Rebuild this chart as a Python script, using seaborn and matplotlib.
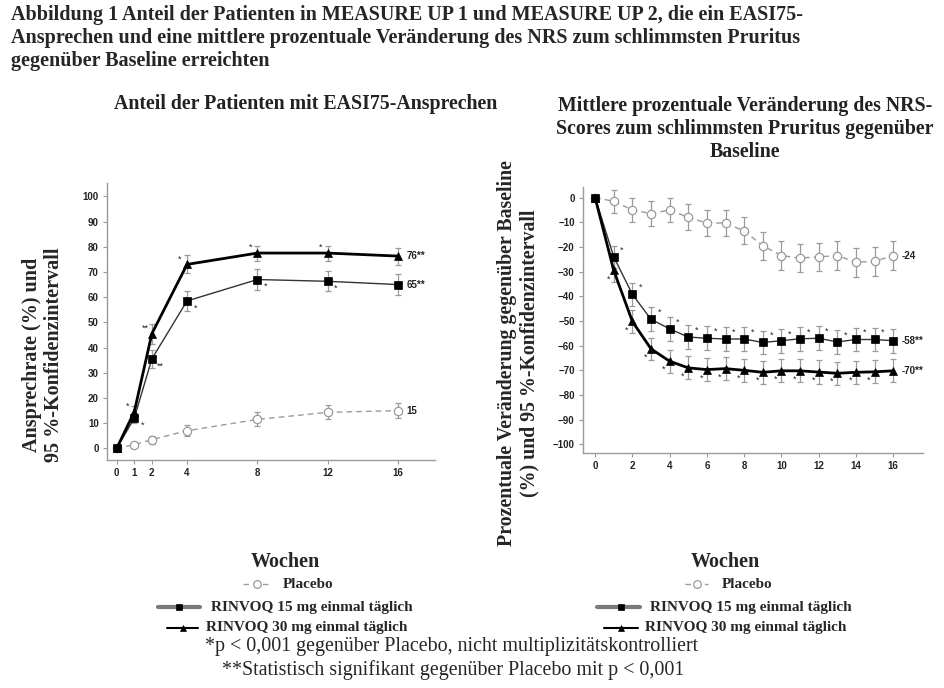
import numpy as np
import pandas as pd
import matplotlib
matplotlib.use("Agg")
import matplotlib.pyplot as plt
from matplotlib.lines import Line2D
import seaborn as sns

# EASI75 response (left panel)
weeks_easi = [0, 1, 2, 4, 8, 12, 16]
pbo_easi = [0, 1.5, 3.5, 7, 11.5, 14.3, 15]
pbo_easi_err = [0, 1.0, 1.6, 2.2, 2.8, 2.8, 3.0]
up15_easi = [0, 12, 35.5, 58.5, 67, 66.3, 65]
up15_easi_err = [0, 2.0, 3.5, 4.0, 4.0, 4.0, 4.0]
up30_easi = [0, 14.5, 45.5, 73, 77.5, 77.5, 76.3]
up30_easi_err = [0, 2.3, 4.0, 3.6, 3.0, 3.0, 3.4]
end_labels_easi = ["15", "65**", "76**"]
stars15_easi = ["", "*", "**", "*", "*", "*", ""]
stars30_easi = ["", "*", "**", "*", "*", "*", ""]

# NRS worst pruritus, % change (right panel)
weeks_nrs = list(range(17))
pbo_nrs = [0, -1.5, -5, -6.5, -5, -8, -10.3, -10.3, -13.5, -19.5, -23.5, -24.5,
           -24, -23.5, -26.2, -25.8, -23.5]
pbo_nrs_err = [0, 4.7, 5.0, 5.0, 5.0, 5.3, 5.4, 5.4, 5.5, 5.6, 5.8, 5.8, 5.8,
               5.8, 5.9, 5.9, 5.9]
up15_nrs = [0, -24, -39.2, -49.3, -53.2, -56.5, -57, -57.3, -57.3, -58.7, -58,
            -57.2, -57, -58.5, -57.5, -57.5, -58]
up15_nrs_err = [0, 4.5, 4.7, 4.8, 4.8, 4.8, 4.8, 4.8, 4.8, 4.8, 4.8, 4.8, 4.8,
                4.8, 4.8, 4.8, 4.8]
up30_nrs = [0, -29.5, -50.2, -61.3, -66.3, -69, -69.7, -69.3, -70, -70.8, -70.2,
            -70.2, -70.7, -71.2, -70.8, -70.6, -70.2]
up30_nrs_err = [0, 4.5, 4.6, 4.6, 4.7, 4.7, 4.7, 4.7, 4.7, 4.7, 4.7, 4.7, 4.7,
                4.7, 4.7, 4.7, 4.7]
end_labels_nrs = ["-24", "-58**", "-70**"]
stars15_nrs = [""] + ["*"] * 15 + [""]
stars30_nrs = [""] + ["*"] * 15 + [""]

legend_labels = ["Placebo", "RINVOQ 15 mg einmal täglich", "RINVOQ 30 mg einmal täglich"]

sns.set_style("ticks")
plt.rcParams["font.family"] = ["Liberation Sans", "DejaVu Sans"]

SERIF = ["Liberation Serif", "DejaVu Serif"]
GRAY = "#9a9a9a"

styles = [
    dict(color=GRAY, lw=1.0, ls=(0, (4, 3)), marker="o", mfc="white", mec=GRAY, ms=6, mew=0.9),
    dict(color="#333333", lw=1.0, ls="-", marker="s", mfc="black", mec="black", ms=5.5, mew=0.5),
    dict(color="black", lw=2.0, ls="-", marker="^", mfc="black", mec="black", ms=5.5, mew=0.5),
]

fig = plt.figure(figsize=(9.45, 6.88), dpi=100)
W, H = 945, 688


def fx(px):
    return px / W


def fy(py):
    return 1 - py / H


ax1 = fig.add_axes([fx(107), fy(460), fx(435) - fx(107), fy(183) - fy(460)])
ax2 = fig.add_axes([fx(583), fy(453), fx(923) - fx(583), fy(187) - fy(453)])


def draw_panel(ax, weeks, series, errs, end_labels, stars15, stars30, off15, off30):
    for i, (vals, err) in enumerate(zip(series, errs)):
        st = styles[i]
        df = pd.DataFrame({"Woche": weeks, "Wert": vals})
        ax.errorbar(weeks, vals, yerr=err, fmt="none", ecolor=GRAY, elinewidth=0.9,
                    capsize=2.5, capthick=0.9, zorder=2)
        sns.lineplot(data=df, x="Woche", y="Wert", ax=ax, color=st["color"], lw=st["lw"],
                     linestyle=st["ls"], marker=st["marker"], markerfacecolor=st["mfc"],
                     markeredgecolor=st["mec"], markersize=st["ms"], markeredgewidth=st["mew"],
                     zorder=3 + i, errorbar=None)
        ax.annotate(end_labels[i], (weeks[-1], vals[-1]), xytext=(6, 0),
                    textcoords="offset points", ha="left", va="center",
                    fontsize=7, fontweight="bold", color="#222222")
    for w, v, s in zip(weeks, series[1], stars15):
        if s:
            ax.annotate(s, (w, v), xytext=off15, textcoords="offset points",
                        ha="center", va="center", fontsize=6.5, color="#222222")
    for w, v, s in zip(weeks, series[2], stars30):
        if s:
            ax.annotate(s, (w, v), xytext=off30, textcoords="offset points",
                        ha="center", va="center", fontsize=6.5, color="#222222")
    ax.set_xlabel("")
    ax.set_ylabel("")
    sns.despine(ax=ax)
    for sp in ["left", "bottom"]:
        ax.spines[sp].set_color(GRAY)
        ax.spines[sp].set_linewidth(1.0)
    ax.tick_params(axis="both", length=3, width=0.8, color=GRAY, labelsize=7, pad=3)


draw_panel(ax1, weeks_easi, [pbo_easi, up15_easi, up30_easi],
           [pbo_easi_err, up15_easi_err, up30_easi_err], end_labels_easi,
           stars15_easi, stars30_easi, off15=(6, -5), off30=(-5, 4))
ax1.set_xlim(-0.55, 18.1)
ax1.set_ylim(-4.6, 105.3)
ax1.set_xticks(weeks_easi)
ax1.set_yticks(np.arange(0, 101, 10))

draw_panel(ax2, weeks_nrs, [pbo_nrs, up15_nrs, up30_nrs],
           [pbo_nrs_err, up15_nrs_err, up30_nrs_err], end_labels_nrs,
           stars15_nrs, stars30_nrs, off15=(6, 5), off30=(-4, -6))
ax2.set_xlim(-0.65, 17.6)
ax2.set_ylim(-103.5, 4.3)
ax2.set_xticks(np.arange(0, 17, 2))
ax2.set_yticks(np.arange(0, -101, -10))

for ax in (ax1, ax2):
    for lab in ax.get_xticklabels() + ax.get_yticklabels():
        lab.set_fontweight("bold")
        lab.set_fontsize(7)
        lab.set_color("#222222")

# titles
title = ("Abbildung 1 Anteil der Patienten in MEASURE UP 1 und MEASURE UP 2, die ein EASI75-\n"
         "Ansprechen und eine mittlere prozentuale Veränderung des NRS zum schlimmsten Pruritus\n"
         "gegenüber Baseline erreichten")
fig.text(fx(11), fy(5), title, family=SERIF, fontweight="bold", fontsize=14.5,
         ha="left", va="top", linespacing=1.2)
fig.text(fx(306), fy(104), "Anteil der Patienten mit EASI75-Ansprechen", family=SERIF,
         fontweight="bold", fontsize=14.3, ha="center", va="center", color="#222222")
fig.text(fx(745), fy(129), "Mittlere prozentuale Veränderung des NRS-\n"
         "Scores zum schlimmsten Pruritus gegenüber\nBaseline", family=SERIF,
         fontweight="bold", fontsize=14.3, ha="center", va="center", color="#222222",
         linespacing=1.2)

# y labels
fig.text(fx(43), fy(355), "Ansprechrate (%) und\n95 %-Konfidenzintervall", family=SERIF,
         fontweight="bold", fontsize=14.5, rotation=90, ha="center", va="center",
         linespacing=1.12)
fig.text(fx(518), fy(353), "Prozentuale Veränderung gegenüber Baseline\n"
         "(%) und 95 %-Konfidenzintervall", family=SERIF, fontweight="bold",
         fontsize=14.3, rotation=90, ha="center", va="center", linespacing=1.15)

# Wochen + legends
for cx, rows in [(285, [(243, 272, 257, 283), (158, 200, 179, 211), (167, 198, 183, 206)]),
                 (725, [(685, 708, 697, 722), (597, 640, 621, 650), (604, 638, 621, 645)])]:
    fig.text(fx(cx), fy(562), "Wochen", family=SERIF, fontweight="bold", fontsize=14.5,
             ha="center", va="center")
    for i, (row_y, (x0, x1, xm, xt)) in enumerate(zip([584, 607, 628], rows)):
        st = styles[i]
        line_color = "#7a7a7a" if i == 1 else st["color"]
        line_w = 3.0 if i == 1 else (1.5 if i == 2 else 1.0)
        fig.add_artist(Line2D([fx(x0), fx(x1)], [fy(row_y), fy(row_y)], color=line_color,
                              lw=line_w, ls=st["ls"]))
        fig.add_artist(Line2D([fx(xm)], [fy(row_y)], marker=st["marker"], ms=st["ms"] - 0.5,
                              mfc=st["mfc"], mec=st["mec"], mew=st["mew"], ls="none"))
        fig.text(fx(xt), fy(row_y), legend_labels[i], family=SERIF, fontweight="bold",
                 fontsize=11, ha="left", va="center")

fig.text(fx(205), fy(647), "*p < 0,001 gegenüber Placebo, nicht multiplizitätskontrolliert",
         family=SERIF, fontsize=14.4, ha="left", va="center")
fig.text(fx(222), fy(670), "**Statistisch signifikant gegenüber Placebo mit p < 0,001",
         family=SERIF, fontsize=14.4, ha="left", va="center")

fig.savefig("out.png", dpi=100, facecolor="white")
